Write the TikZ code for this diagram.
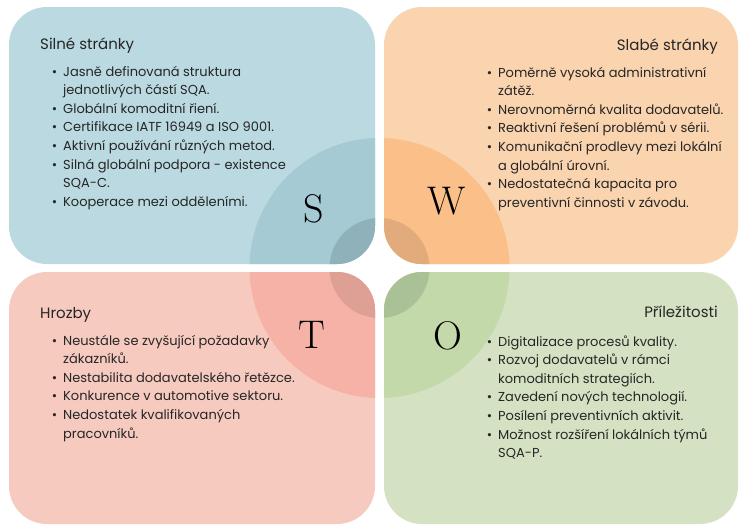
\documentclass[tikz,border=0pt]{standalone}
\usepackage{fontspec}
\setmainfont{Poppins}
\newfontfamily\bigletter{Latin Modern Roman}
\definecolor{sbox}{HTML}{BBD9E0}
\definecolor{scirc}{HTML}{A5CAD4}
\definecolor{ssmall}{HTML}{8FB2BA}
\definecolor{wbox}{HTML}{FAD3AF}
\definecolor{wcirc}{HTML}{FBC08A}
\definecolor{wsmall}{HTML}{E2AB7B}
\definecolor{tbox}{HTML}{F7CAC0}
\definecolor{tcirc}{HTML}{F6B2A6}
\definecolor{tsmall}{HTML}{DE9F94}
\definecolor{obox}{HTML}{D4E2C3}
\definecolor{ocirc}{HTML}{C3D9AA}
\definecolor{osmall}{HTML}{AAC096}
\newcommand\bl{\leavevmode\llap{\textbullet\hspace{6pt}}}
\newcommand\swotlist[1]{\parbox[t]{320pt}{\fontsize{13}{18.6}\selectfont\raggedright #1}}
\tikzset{
  quad/.style={rounded corners=38pt},
  titletext/.style={inner sep=0pt, font=\fontsize{15}{17}\selectfont, text=black!85},
  listtext/.style={inner sep=0pt, anchor=base west, text=black!85},
  letter/.style={inner sep=0pt, anchor=base, font=\bigletter\fontsize{40}{40}\selectfont}
}
\begin{document}
\begin{tikzpicture}[x=1pt,y=-1pt]
\useasboundingbox (0,0) rectangle (740,525);
\coordinate (c) at (379.5,268);
% S
\fill[sbox,quad] (9,7) rectangle (375,264);
\begin{scope}
\clip[quad] (9,7) rectangle (375,264);
\fill[scirc] (c) circle[radius=130];
\fill[ssmall] (c) circle[radius=50];
\end{scope}
% W
\fill[wbox,quad] (384,7) rectangle (738,264);
\begin{scope}
\clip[quad] (384,7) rectangle (738,264);
\fill[wcirc] (c) circle[radius=130];
\fill[wsmall] (c) circle[radius=50];
\end{scope}
% T
\fill[tbox,quad] (9,272) rectangle (375,524);
\begin{scope}
\clip[quad] (9,272) rectangle (375,524);
\fill[tcirc] (c) circle[radius=130];
\fill[tsmall] (c) circle[radius=50];
\end{scope}
% O
\fill[obox,quad] (384,272) rectangle (738,524);
\begin{scope}
\clip[quad] (384,272) rectangle (738,524);
\fill[ocirc] (c) circle[radius=130];
\fill[osmall] (c) circle[radius=50];
\end{scope}
% letters
\node[letter] (S) at (313.5,222) {S};
\node[letter] (W) at (447,214.5) {W};
\node[letter] (T) at (312,348.5) {T};
\node[letter] (O) at (447.5,349) {O};
% titles
\node[titletext, anchor=base west] (st) at (40,49) {Silné stránky};
\node[titletext, anchor=base east] (wt) at (718,50) {Slabé stránky};
\node[titletext, anchor=base west] (tt) at (40,318) {Hrozby};
\node[titletext, anchor=base east] (ot) at (718,317) {Příležitosti};
% lists
\node[listtext] (sl) at (63,76) {\swotlist{%
\bl Jasně definovaná struktura\\
jednotlivých částí SQA.\\
\bl Globální komoditní řiení.\\
\bl Certifikace IATF 16949 a ISO 9001.\\
\bl Aktivní používání různých metod.\\
\bl Silná globální podpora - existence\\
SQA-C.\\
\bl Kooperace mezi odděleními.}};
\node[listtext] (wl) at (498,77) {\swotlist{%
\bl Poměrně vysoká administrativní\\
zátěž.\\
\bl Nerovnoměrná kvalita dodavatelů.\\
\bl Reaktivní řešení problémů v sérii.\\
\bl Komunikační prodlevy mezi lokální\\
a globální úrovní.\\
\bl Nedostatečná kapacita pro\\
preventivní činnosti v závodu.}};
\node[listtext] (tl) at (63,345) {\swotlist{%
\bl Neustále se zvyšující požadavky\\
zákazníků.\\
\bl Nestabilita dodavatelského řetězce.\\
\bl Konkurence v automotive sektoru.\\
\bl Nedostatek kvalifikovaných\\
pracovníků.}};
\node[listtext] (ol) at (498,346) {\swotlist{%
\bl Digitalizace procesů kvality.\\
\bl Rozvoj dodavatelů v rámci\\
komoditních strategiích.\\
\bl Zavedení nových technologií.\\
\bl Posílení preventivních aktivit.\\
\bl Možnost rozšíření lokálních týmů\\
SQA-P.}};
\end{tikzpicture}
\end{document}
